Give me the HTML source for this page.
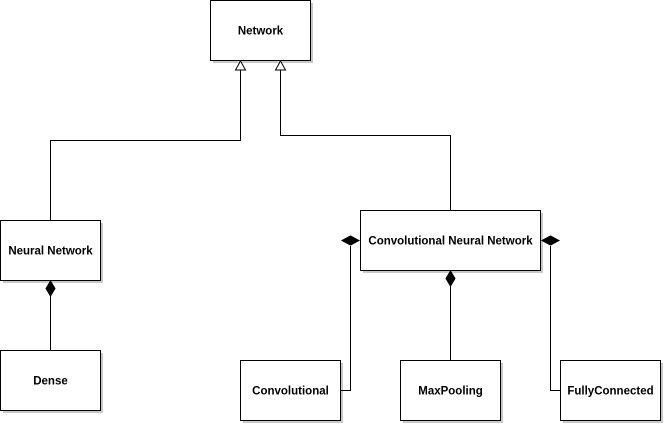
<!DOCTYPE html>
<html><head><meta charset="utf-8"><style>
html,body{margin:0;padding:0;background:#fff;width:665px;height:425px;overflow:hidden}
text{font-family:"Liberation Sans",Arial,sans-serif;font-weight:bold;font-size:11.5px;fill:#000}
</style></head><body>
<svg width="665" height="425" viewBox="0 0 665 425" xmlns="http://www.w3.org/2000/svg">
<g fill="#c8c8c8">
<rect x="213" y="3" width="100" height="60"/>
<rect x="3" y="223" width="100" height="60"/>
<rect x="3" y="353" width="100" height="60"/>
<rect x="363" y="213" width="180" height="60"/>
<rect x="243" y="363" width="100" height="60"/>
<rect x="403" y="363" width="100" height="60"/>
<rect x="563" y="363" width="100" height="60"/>
</g>
<g fill="#fff" stroke="#000" stroke-width="1">
<rect x="210.5" y="0.5" width="100" height="60"/>
<rect x="0.5" y="220.5" width="100" height="60"/>
<rect x="0.5" y="350.5" width="100" height="60"/>
<rect x="360.5" y="210.5" width="180" height="60"/>
<rect x="240.5" y="360.5" width="100" height="60"/>
<rect x="400.5" y="360.5" width="100" height="60"/>
<rect x="560.5" y="360.5" width="100" height="60"/>
</g>
<g fill="none" stroke="#000" stroke-width="1">
<polyline points="50.5,220 50.5,140.5 240.5,140.5 240.5,70"/>
<polyline points="450.5,210 450.5,135.5 280.5,135.5 280.5,70"/>
<line x1="50.5" y1="296" x2="50.5" y2="350"/>
<line x1="450.5" y1="286" x2="450.5" y2="360"/>
<polyline points="340,390.5 350.5,390.5 350.5,246"/>
<polyline points="560,390.5 550.5,390.5 550.5,246"/>
</g>
<g fill="#fff" stroke="#000" stroke-width="1">
<polygon points="240.5,61 235.5,70 245.5,70"/>
<polygon points="280.5,61 275.5,70 285.5,70"/>
</g>
<g fill="#000" stroke="#000" stroke-width="1">
<polygon points="50.5,281 55,288.5 50.5,296 46,288.5"/>
<polygon points="450.5,271 455,278.5 450.5,286 446,278.5"/>
<polygon points="342,240.5 350.5,236 359,240.5 350.5,245"/>
<polygon points="542,240.5 550.5,236 559,240.5 550.5,245"/>
</g>
<g text-anchor="middle">
<text x="260.5" y="34.5">Network</text>
<text x="50.5" y="254.5">Neural Network</text>
<text x="50.5" y="384.5">Dense</text>
<text x="450.5" y="244.5">Convolutional Neural Network</text>
<text x="290.5" y="394.5">Convolutional</text>
<text x="450.5" y="394.5">MaxPooling</text>
<text x="610.5" y="394.5">FullyConnected</text>
</g>
</svg>
</body></html>
